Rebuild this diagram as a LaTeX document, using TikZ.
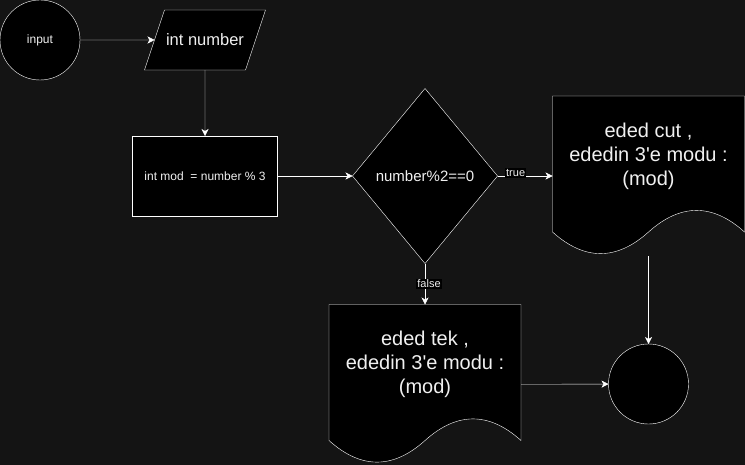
\documentclass[tikz,border=0pt]{standalone}
\usepackage{fontspec}
\setmainfont{Liberation Sans}
\usetikzlibrary{positioning}
\usetikzlibrary{arrows.meta}
\usetikzlibrary{shapes.geometric}
\definecolor{canvas}{HTML}{141414}
\definecolor{ink}{HTML}{F0F0F0}
\pgfdeclarelayer{back}
\pgfdeclarelayer{shapes}
\pgfsetlayers{back,shapes,main}

\begin{document}
\begin{tikzpicture}[
    x=1pt, y=-1pt,
    color=white,
    line width=1pt,
    >={Stealth[length=7pt,width=7pt,inset=2pt]},
    box/.style={
      draw=white,
      fill=black,
      text=ink,
      inner sep=0pt,
      outer sep=0pt,
    },
    terminal/.style={
      box,
      circle,
      minimum size=80pt,
      font=\fontsize{12pt}{14pt}\selectfont,
    },
    io/.style={
      box,
      trapezium,
      trapezium left angle=71.57,
      trapezium right angle=108.43,
      trapezium stretches body=true,
      text height=12pt,
      text depth=0pt,
      inner ysep=24pt,
      minimum width=121pt,
      font=\fontsize{16.5pt}{20pt}\selectfont,
    },
    process/.style={
      box,
      minimum width=145pt,
      minimum height=80pt,
      font=\fontsize{12pt}{14pt}\selectfont,
    },
    decision/.style={
      box,
      diamond,
      minimum width=145pt,
      minimum height=175pt,
      font=\fontsize{15pt}{18pt}\selectfont,
    },
    doc/.style={
      text=ink,
      inner sep=0pt,
      outer sep=0pt,
      minimum width=192pt,
      minimum height=160pt,
      align=center,
      font=\fontsize{20pt}{24pt}\selectfont,
    },
    wave/.style={
      draw=white,
      fill=black,
    },
    tag/.style={
      fill=black,
      text=ink,
      inner sep=1pt,
      font=\fontsize{11pt}{13pt}\selectfont,
    },
    ]
    \useasboundingbox (0,0) rectangle (745,465);
    \begin{pgfonlayer}{back}
      \fill[canvas] (0,0) rectangle (745,465);
    \end{pgfonlayer}

    \node[terminal] (input) at (40,40) {input};
    \node[io, right=74.5pt of input] (num) {int number};
    \node[process, below=66pt of num] (mod) {int mod\ \ = number \% 3};
    \node[decision, right=75pt of mod] (dec) {number\%2==0};
    \node[doc, right=55pt of dec] (cut) {
      eded cut ,\\
      ededin 3\textquotesingle e modu :\\
      (mod)\\[20pt]
    };
    \node[doc, below=41pt of dec] (tek) {
      eded tek ,\\
      ededin 3\textquotesingle e modu :\\
      (mod)\\[20pt]
    };
    \node[terminal, below=88pt of cut] (end) {};

    % document outlines, behind the texts
    \begin{pgfonlayer}{shapes}
      \draw[wave] (cut.north west) -- (cut.north east)
        -- ([yshift=24pt]cut.south east)
        .. controls ([xshift=-32pt,yshift=52.8pt]cut.south east) and ([xshift=32pt,yshift=52.8pt]cut.south) .. ([yshift=24pt]cut.south)
        .. controls ([xshift=-32pt,yshift=-4.8pt]cut.south) and ([xshift=32pt,yshift=-4.8pt]cut.south west) .. ([yshift=24pt]cut.south west)
        -- cycle;
      \draw[wave] (tek.north west) -- (tek.north east)
        -- ([yshift=24pt]tek.south east)
        .. controls ([xshift=-32pt,yshift=52.8pt]tek.south east) and ([xshift=32pt,yshift=52.8pt]tek.south) .. ([yshift=24pt]tek.south)
        .. controls ([xshift=-32pt,yshift=-4.8pt]tek.south) and ([xshift=32pt,yshift=-4.8pt]tek.south west) .. ([yshift=24pt]tek.south west)
        -- cycle;
    \end{pgfonlayer}

    \draw[->] (input) -- (num);
    \draw[->] (num) -- (mod);
    \draw[->] (mod) -- (dec);
    \draw[->] (dec) -- node[tag, pos=0.33, yshift=3pt] {true} (cut);
    \draw[->] (dec) -- node[tag, pos=0.5, xshift=4pt] {false} (tek);
    \draw[->] (cut) -- (end);
    \draw[->] (tek) -- (end);
\end{tikzpicture}
\end{document}
